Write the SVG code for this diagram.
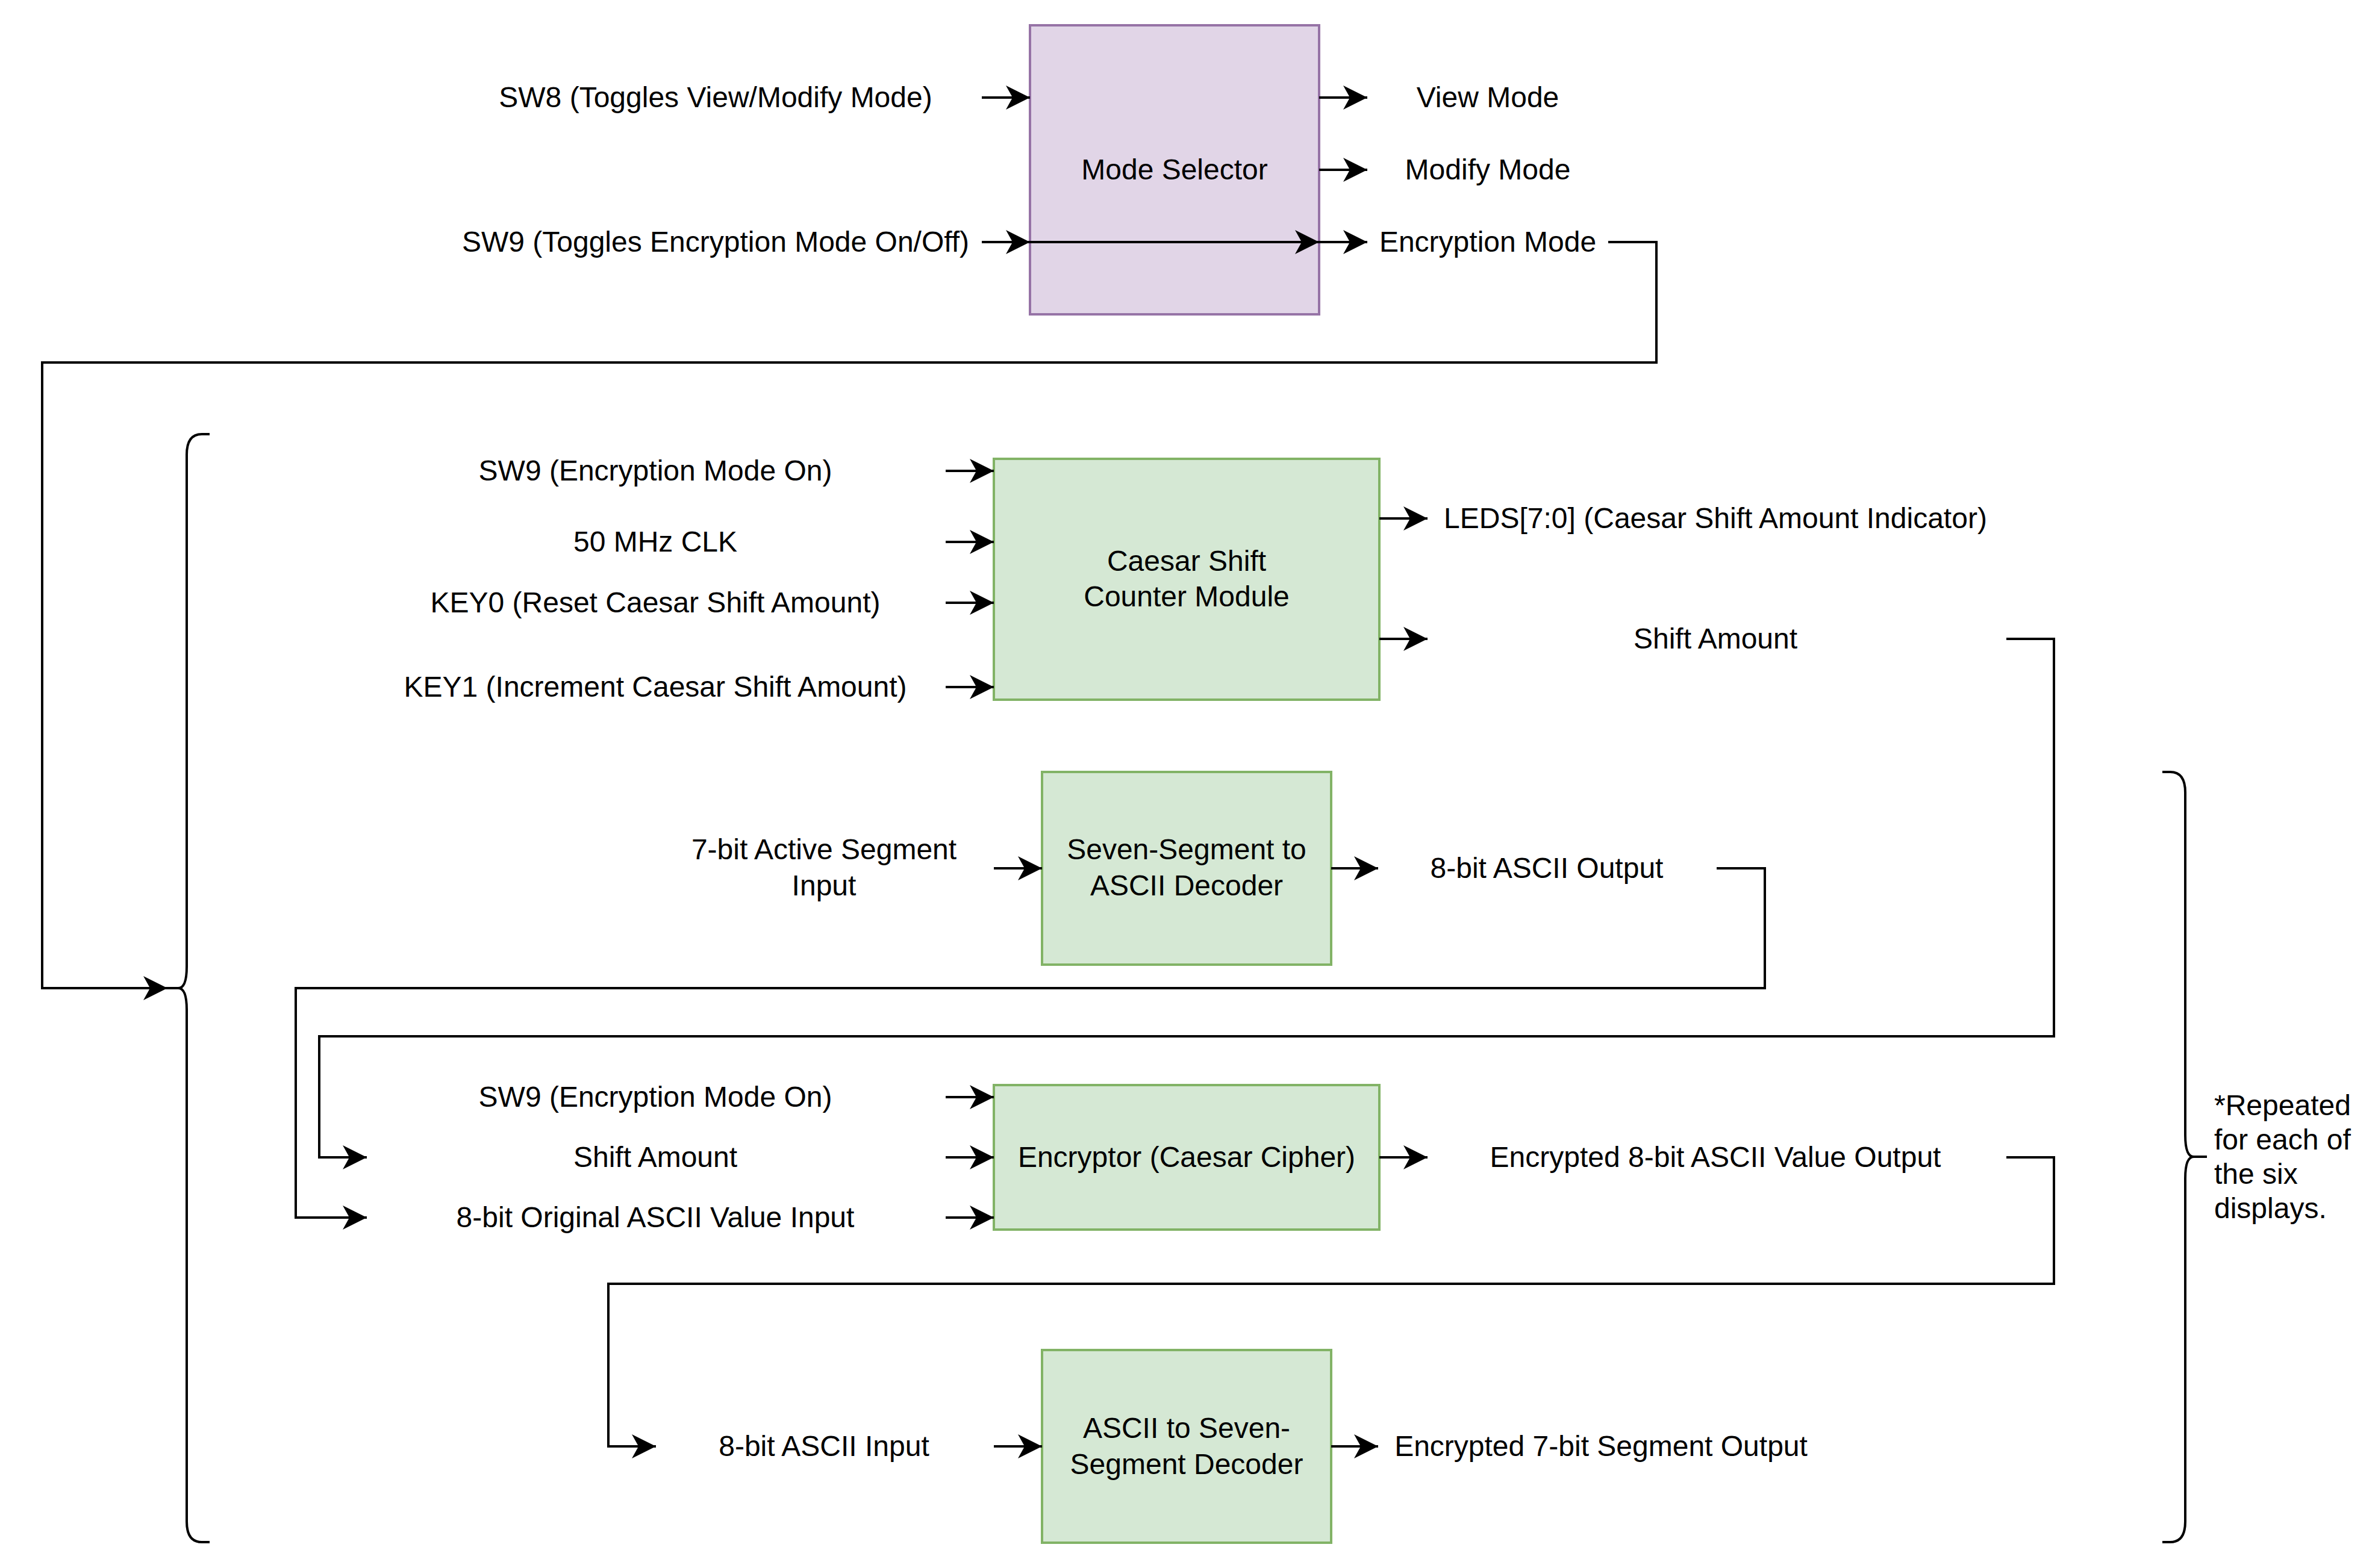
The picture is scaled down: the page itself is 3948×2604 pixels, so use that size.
<svg xmlns="http://www.w3.org/2000/svg" width="3948" height="2604" viewBox="0 0 3948 2604">
<style>
text{font-family:"Liberation Sans",Arial,Helvetica,sans-serif;font-size:48px;fill:#000;text-anchor:middle}
text.l{text-anchor:start}
.purple{fill:#e1d5e7;stroke:#9673a6;stroke-width:4}
.green{fill:#d5e8d4;stroke:#82b366;stroke-width:4}
.c{fill:none;stroke:#000;stroke-width:4;marker-end:url(#arr)}
.br{fill:none;stroke:#000;stroke-width:4}
</style>
<defs>
<marker id="arr" markerUnits="userSpaceOnUse" markerWidth="40" markerHeight="40" viewBox="0 0 36 36" refX="36" refY="18" orient="auto">
<path d="M36,18 L0,0 L10,18 L0,36 Z" fill="#000"/>
</marker>
</defs>
<rect width="3948" height="2604" fill="#fff"/>

<g id="mode-selector">
<rect class="purple" x="1710" y="42" width="480" height="480"/>
<text x="1950" y="298">Mode Selector</text>
</g>
<g id="label-sw8"><text x="1188" y="178">SW8 (Toggles View/Modify Mode)</text></g>
<g id="label-sw9-toggle"><text x="1188" y="418">SW9 (Toggles Encryption Mode On/Off)</text></g>
<g id="label-view-mode"><text x="2470" y="178">View Mode</text></g>
<g id="label-modify-mode"><text x="2470" y="298">Modify Mode</text></g>
<g id="label-encryption-mode"><text x="2470" y="418">Encryption Mode</text></g>

<g id="caesar-shift-counter">
<rect class="green" x="1650" y="762" width="640" height="400"/>
<text x="1970" y="948">Caesar Shift</text>
<text x="1970" y="1007">Counter Module</text>
</g>
<g id="label-sw9-on-1"><text x="1088" y="798">SW9 (Encryption Mode On)</text></g>
<g id="label-clk"><text x="1088" y="916">50 MHz CLK</text></g>
<g id="label-key0"><text x="1088" y="1017">KEY0 (Reset Caesar Shift Amount)</text></g>
<g id="label-key1"><text x="1088" y="1157">KEY1 (Increment Caesar Shift Amount)</text></g>
<g id="label-leds"><text x="2848" y="877">LEDS[7:0] (Caesar Shift Amount Indicator)</text></g>
<g id="label-shift-out"><text x="2848" y="1077">Shift Amount</text></g>

<g id="seven-seg-to-ascii">
<rect class="green" x="1730" y="1282" width="480" height="320"/>
<text x="1970" y="1427">Seven-Segment to</text>
<text x="1970" y="1487">ASCII Decoder</text>
</g>
<g id="label-7bit-input"><text x="1368" y="1427">7-bit Active Segment</text><text x="1368" y="1487">Input</text></g>
<g id="label-8bit-output"><text x="2568" y="1458">8-bit ASCII Output</text></g>

<g id="encryptor">
<rect class="green" x="1650" y="1802" width="640" height="240"/>
<text x="1970" y="1938">Encryptor (Caesar Cipher)</text>
</g>
<g id="label-sw9-on-2"><text x="1088" y="1838">SW9 (Encryption Mode On)</text></g>
<g id="label-shift-in"><text x="1088" y="1938">Shift Amount</text></g>
<g id="label-orig-ascii"><text x="1088" y="2038">8-bit Original ASCII Value Input</text></g>
<g id="label-enc-8bit"><text x="2848" y="1938">Encrypted 8-bit ASCII Value Output</text></g>

<g id="ascii-to-seven-seg">
<rect class="green" x="1730" y="2242" width="480" height="320"/>
<text x="1970" y="2388">ASCII to Seven-</text>
<text x="1970" y="2448">Segment Decoder</text>
</g>
<g id="label-8bit-input"><text x="1368" y="2418">8-bit ASCII Input</text></g>
<g id="label-enc-7bit"><text x="2658" y="2418">Encrypted 7-bit Segment Output</text></g>

<g id="brace-left">
<path class="br" d="M348,721 L335,721 Q310,721 310,755 L310,1605 Q310,1641 296,1641 L278,1641 M296,1641 Q310,1641 310,1677 L310,2527 Q310,2561 335,2561 L348,2561"/>
</g>
<g id="brace-right">
<path class="br" d="M3590,1282 L3603,1282 Q3628,1282 3628,1316 L3628,1885 Q3628,1921 3642,1921 L3664,1921 M3642,1921 Q3628,1921 3628,1957 L3628,2527 Q3628,2561 3603,2561 L3590,2561"/>
</g>
<g id="label-repeated">
<text class="l" x="3676" y="1852">*Repeated</text>
<text class="l" x="3676" y="1909">for each of</text>
<text class="l" x="3676" y="1966">the six</text>
<text class="l" x="3676" y="2023">displays.</text>
</g>

<g id="connectors">
<path class="c" d="M1630,162 H1710"/>
<path class="c" d="M1630,402 H1710"/>
<path class="c" d="M1710,402 H2190"/>
<path class="c" d="M2190,162 H2270"/>
<path class="c" d="M2190,282 H2270"/>
<path class="c" d="M2190,402 H2270"/>
<path class="c" d="M2670,402 H2750 V602 H70 V1641 H278"/>
<path class="c" d="M1570,782 H1650"/>
<path class="c" d="M1570,900 H1650"/>
<path class="c" d="M1570,1001 H1650"/>
<path class="c" d="M1570,1141 H1650"/>
<path class="c" d="M2290,861 H2370"/>
<path class="c" d="M2290,1061 H2370"/>
<path class="c" d="M3331,1061 H3410 V1721 H530 V1922 H609"/>
<path class="c" d="M1650,1442 H1730"/>
<path class="c" d="M2210,1442 H2288"/>
<path class="c" d="M2850,1442 H2930 V1641 H491 V2022 H609"/>
<path class="c" d="M1570,1822 H1650"/>
<path class="c" d="M1570,1922 H1650"/>
<path class="c" d="M1570,2022 H1650"/>
<path class="c" d="M2290,1922 H2370"/>
<path class="c" d="M3331,1922 H3410 V2132 H1010 V2402 H1089"/>
<path class="c" d="M1650,2402 H1730"/>
<path class="c" d="M2210,2402 H2288"/>
</g>
</svg>
